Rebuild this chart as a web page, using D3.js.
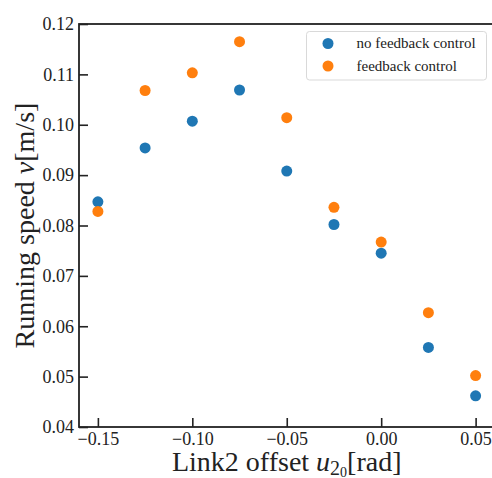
<!DOCTYPE html>
<html>
<head>
<meta charset="utf-8">
<script src="https://cdn.jsdelivr.net/npm/d3@7"></script>
<style>
  html, body { margin: 0; padding: 0; background: #fff; }
</style>
</head>
<body>
<div id="chart"></div>
<script>
const offsets = [-0.15, -0.125, -0.1, -0.075, -0.05, -0.025, 0, 0.025, 0.05];
const noFeedback = [0.0847, 0.0954, 0.1007, 0.1069, 0.0908, 0.0802, 0.0745, 0.0558, 0.0462];
const feedback = [0.0828, 0.1068, 0.1103, 0.1165, 0.1014, 0.0836, 0.0767, 0.0627, 0.0502];
const xTicks = [-0.15, -0.10, -0.05, 0.00, 0.05];
const yTicks = [0.04, 0.05, 0.06, 0.07, 0.08, 0.09, 0.10, 0.11, 0.12];
const seriesNames = ['no feedback control', 'feedback control'];
const colors = ['#1f77b4', '#ff7f0e'];

const serif = 'Liberation Serif';
const width = 492;
const height = 478;
const margin = { top: 24, right: -2.5, bottom: 51, left: 79 };

const svg = d3.select('#chart')
  .append('svg')
  .attr('width', width)
  .attr('height', height)
  .attr('font-family', serif);

const x = d3.scaleLinear()
  .domain([-0.16, 0.06])
  .range([margin.left, width - margin.right]);

const y = d3.scaleLinear()
  .domain([0.04, 0.12])
  .range([height - margin.bottom, margin.top]);

const fmtMinus = s => s.replace('-', '\u2212');

// points
[noFeedback, feedback].forEach((vals, i) => {
  svg.append('g')
    .selectAll('circle')
    .data(offsets.map((o, j) => ({ o, v: vals[j] })))
    .enter()
    .append('circle')
    .attr('cx', d => x(d.o))
    .attr('cy', d => y(d.v))
    .attr('r', 5.5)
    .attr('fill', colors[i]);
});

// axes (ticks pointing inward)
const xAxis = svg.append('g')
  .attr('transform', `translate(0,${y.range()[0]})`)
  .call(d3.axisBottom(x).tickValues(xTicks).tickSizeInner(-9).tickSizeOuter(0)
    .tickPadding(5).tickFormat(d => fmtMinus(d3.format('.2f')(d))));

const yAxis = svg.append('g')
  .attr('transform', `translate(${x.range()[0]},0)`)
  .call(d3.axisLeft(y).tickValues(yTicks).tickSizeInner(-9).tickSizeOuter(0)
    .tickPadding(5).tickFormat(d3.format('.2f')));

[xAxis, yAxis].forEach(g => {
  g.attr('font-family', serif).attr('font-size', 18);
  g.select('.domain').remove();
  g.selectAll('line').attr('stroke', '#222').attr('stroke-width', 1.6);
  g.selectAll('text')
    .attr('fill', '#222')
    .attr('font-family', serif)
    .attr('font-size', 18);
});
xAxis.selectAll('text').attr('y', 18).attr('dy', null);

// frame
svg.append('rect')
  .attr('x', x.range()[0])
  .attr('y', y.range()[1])
  .attr('width', x.range()[1] - x.range()[0])
  .attr('height', y.range()[0] - y.range()[1])
  .attr('fill', 'none')
  .attr('stroke', '#222')
  .attr('stroke-width', 1.8);

// axis titles
const xt = svg.append('text')
  .attr('x', (x.range()[0] + x.range()[1]) / 2)
  .attr('y', 471)
  .attr('text-anchor', 'middle')
  .attr('font-family', serif)
  .attr('font-size', 28)
  .attr('fill', '#222');
xt.append('tspan').text('Link2 offset ');
xt.append('tspan').attr('font-style', 'italic').text('u');
xt.append('tspan').attr('dy', 4).attr('font-size', 20).text('2');
xt.append('tspan').attr('dy', 2).attr('font-size', 14).text('0');
xt.append('tspan').attr('dy', -6).text('[rad]');

const yt = svg.append('text')
  .attr('transform', `translate(34,${(y.range()[0] + y.range()[1]) / 2}) rotate(-90)`)
  .attr('text-anchor', 'middle')
  .attr('font-family', serif)
  .attr('font-size', 28)
  .attr('fill', '#222');
yt.append('tspan').text('Running speed ');
yt.append('tspan').attr('font-style', 'italic').text('v');
yt.append('tspan').text('[m/s]');

// legend
const legend = svg.append('g');
legend.append('rect')
  .attr('x', 306.5)
  .attr('y', 31.5)
  .attr('width', 180)
  .attr('height', 48.5)
  .attr('rx', 3)
  .attr('fill', '#fff')
  .attr('stroke', '#d9d9d9')
  .attr('stroke-width', 1);

seriesNames.forEach((name, i) => {
  const cy = 43.5 + i * 22.5;
  legend.append('circle')
    .attr('cx', 328)
    .attr('cy', cy)
    .attr('r', 5.5)
    .attr('fill', colors[i]);
  legend.append('text')
    .attr('x', 356.5)
    .attr('y', cy)
    .attr('dy', '0.32em')
    .attr('font-family', serif)
    .attr('font-size', 15)
    .attr('fill', '#222')
    .text(name);
});
</script>
</body>
</html>
